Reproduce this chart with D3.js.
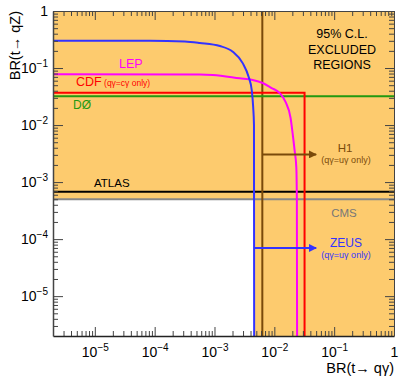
<!DOCTYPE html>
<html>
<head>
<meta charset="utf-8">
<script src="https://cdn.jsdelivr.net/npm/d3@7"></script>
<style>
  body { margin: 0; background: #fff; }
  svg { font-family: "Liberation Sans", Arial, sans-serif; }
</style>
</head>
<body>
<div id="chart"></div>
<script>
// axis ranges, BR(t -> q gamma) on x, BR(t -> qZ) on y
const xDomain = [2e-6, 1];
const yDomain = [2e-6, 1];
const majorTicks = [1e-5, 1e-4, 1e-3, 1e-2, 1e-1, 1];
const tickExponents = ["\u22125", "\u22124", "\u22123", "\u22122", "\u22121", ""];

// LEP and ZEUS contours, [BR(q gamma), BR(qZ)]
const lepCurve = [[2e-6, 0.078], [5.7e-4, 0.077], [9.4e-4, 0.0754], [2.64e-3, 0.066],
  [4.35e-3, 0.0616], [6.38e-3, 0.0546], [9.0e-3, 0.0446], [1.23e-2, 0.0364],
  [1.54e-2, 0.0254], [1.87e-2, 0.0133], [2.02e-2, 7.2e-3], [2.18e-2, 3.64e-3],
  [2.33e-2, 1.83e-3], [2.38e-2, 4.8e-4], [2.4e-2, 2e-6]];
const zeusCurve = [[2e-6, 0.30], [8.3e-5, 0.30], [3.2e-4, 0.292], [5.7e-4, 0.275],
  [1.23e-3, 0.243], [2.02e-3, 0.193], [2.96e-3, 0.122], [3.73e-3, 0.0695],
  [4.19e-3, 0.0411], [4.43e-3, 0.0207], [4.57e-3, 0.01], [4.6e-3, 2e-6]];

// single limits
const cdfLimit = {qGamma: 0.032, qZ: 0.037};
const d0Limit = 0.032;      // qZ only
const atlasLimit = 6.8e-4;  // qZ only
const cmsLimit = 5e-4;      // qZ only
const h1Limit = 6.3e-3;     // q gamma only
const zeusLimit = 4.6e-3;   // q gamma (u gamma)
const arrowEnd = 0.05;
const h1ArrowAt = 3.06e-3;
const zeusArrowAt = 7.0e-5;

const W = 407, H = 387;
const margin = {left: 53, right: 13, top: 11, bottom: 51};

const svg = d3.select("#chart").append("svg")
  .attr("width", W).attr("height", H);

const x = d3.scaleLog().domain(xDomain).range([margin.left, W - margin.right]);
const y = d3.scaleLog().domain(yDomain).range([H - margin.bottom, margin.top]);

const x0 = x.range()[0], x1 = x.range()[1];
const y0 = y.range()[0], y1 = y.range()[1];

const brown = "#7a4a0a", blue = "#3333ff", magenta = "#ff00ff",
      red = "#ff0000", green = "#229911";

// excluded area: whole frame minus the corner left of ZEUS and below CMS
const excluded = [[xDomain[0], yDomain[1]], [xDomain[1], yDomain[1]], [xDomain[1], yDomain[0]],
  [zeusLimit, yDomain[0]], [zeusLimit, cmsLimit], [xDomain[0], cmsLimit]];
svg.append("path")
  .attr("d", d3.line().x(d => x(d[0])).y(d => y(d[1]))(excluded) + "Z")
  .attr("fill", "#fdcb6e");

function hline(v, color, w){
  svg.append("line").attr("x1", x0).attr("x2", x1).attr("y1", y(v)).attr("y2", y(v))
    .attr("stroke", color).attr("stroke-width", w);
}
function vline(v, color, w){
  svg.append("line").attr("x1", x(v)).attr("x2", x(v)).attr("y1", y0).attr("y2", y1)
    .attr("stroke", color).attr("stroke-width", w);
}

hline(cmsLimit, "#888888", 2);
hline(atlasLimit, "#000000", 2);
vline(h1Limit, brown, 2);
hline(d0Limit, green, 2);

// CDF box
svg.append("path")
  .attr("d", d3.line().x(d => x(d[0])).y(d => y(d[1]))(
    [[xDomain[0], cdfLimit.qZ], [cdfLimit.qGamma, cdfLimit.qZ], [cdfLimit.qGamma, yDomain[0]]]))
  .attr("fill", "none").attr("stroke", red).attr("stroke-width", 2);

const curve = d3.line().x(d => x(d[0])).y(d => y(d[1])).curve(d3.curveMonotoneX);
svg.append("path").attr("d", curve(lepCurve))
  .attr("fill", "none").attr("stroke", magenta).attr("stroke-width", 2);
svg.append("path").attr("d", curve(zeusCurve))
  .attr("fill", "none").attr("stroke", blue).attr("stroke-width", 2);

// arrows
const defs = svg.append("defs");
[["h1head", brown], ["zeushead", blue]].forEach(([id, c]) => {
  defs.append("marker").attr("id", id).attr("viewBox", "0 0 10 10")
    .attr("refX", 9).attr("refY", 5).attr("markerWidth", 4).attr("markerHeight", 4)
    .attr("orient", "auto").attr("markerUnits", "strokeWidth")
    .append("path").attr("d", "M0,0L10,5L0,10Z").attr("fill", c);
});
svg.append("line").attr("x1", x(h1Limit)).attr("x2", x(arrowEnd))
  .attr("y1", y(h1ArrowAt)).attr("y2", y(h1ArrowAt))
  .attr("stroke", brown).attr("stroke-width", 2).attr("marker-end", "url(#h1head)");
svg.append("line").attr("x1", x(zeusLimit)).attr("x2", x(arrowEnd))
  .attr("y1", y(zeusArrowAt)).attr("y2", y(zeusArrowAt))
  .attr("stroke", blue).attr("stroke-width", 2).attr("marker-end", "url(#zeushead)");

// labels
function label(px, py, txt, color, size, anchor){
  return svg.append("text").attr("x", px).attr("y", py).text(txt)
    .attr("fill", color).attr("font-size", size + "px").attr("text-anchor", anchor || "start");
}
label(119, y(0.099), "LEP", magenta, 12.5);
const cdfText = label(76, y(cdfLimit.qZ) - 7, "CDF", red, 12.5);
cdfText.append("tspan").attr("font-size", "8.5px").text(" (q\u03b3=c\u03b3 only)");
label(73, y(d0Limit) + 13, "D\u00d8", green, 12);
label(94, y(atlasLimit) - 5, "ATLAS", "#000", 11.5);
label(344, y(cmsLimit) + 18, "CMS", "#777777", 11.5, "middle");
label(345, y(h1ArrowAt) - 2, "H1", brown, 11.5, "middle");
label(346, y(h1ArrowAt) + 9, "(q\u03b3=u\u03b3 only)", brown, 9, "middle");
label(346, y(zeusArrowAt) - 1, "ZEUS", blue, 12, "middle");
label(346, y(zeusArrowAt) + 10.5, "(q\u03b3=u\u03b3 only)", blue, 9, "middle");
label(342, 38, "95% C.L.", "#000", 12.5, "middle");
label(342, 53.5, "EXCLUDED", "#000", 12.5, "middle");
label(342, 68.5, "REGIONS", "#000", 12.5, "middle");

// axes
const minorTicks = [];
for (let e = -6; e <= -1; e++){
  for (let k = 2; k <= 9; k++){
    const v = k * Math.pow(10, e);
    if (v > xDomain[0] * 1.01 && v < xDomain[1]) minorTicks.push(v);
  }
}
const axisColor = "#444";

function styleAxis(g){
  g.selectAll("line").attr("stroke", axisColor);
  g.selectAll("path").attr("stroke", axisColor);
}
function expLabels(g){
  g.selectAll(".tick text").each(function(d){
    const t = d3.select(this).text("");
    const ex = tickExponents[majorTicks.indexOf(d)];
    if (ex === "") { t.text("1"); return; }
    t.append("tspan").text("10");
    t.append("tspan").attr("font-size", "10px").attr("dy", "-6").text(ex);
  });
}

// bottom
svg.append("g").attr("transform", `translate(0,${y0})`)
  .call(d3.axisBottom(x).tickValues(minorTicks).tickSize(-5).tickFormat(""))
  .call(g => g.select(".domain").remove()).call(styleAxis);
const xb = svg.append("g").attr("transform", `translate(0,${y0})`)
  .call(d3.axisBottom(x).tickValues(majorTicks).tickSizeInner(-9).tickSizeOuter(0).tickPadding(11))
  .call(styleAxis);
xb.selectAll(".tick text").attr("font-size", "14px").attr("fill", "#000")
  .attr("font-family", "Liberation Sans, Arial, sans-serif");
xb.call(expLabels);
xb.select(".domain").attr("stroke", "#222").attr("stroke-width", 1.5);

// top
svg.append("g").attr("transform", `translate(0,${y1})`)
  .call(d3.axisTop(x).tickValues(minorTicks).tickSize(-5).tickFormat(""))
  .call(g => g.select(".domain").remove()).call(styleAxis);
svg.append("g").attr("transform", `translate(0,${y1})`)
  .call(d3.axisTop(x).tickValues(majorTicks).tickSizeInner(-9).tickSizeOuter(0).tickFormat(""))
  .call(styleAxis);

// left
svg.append("g").attr("transform", `translate(${x0},0)`)
  .call(d3.axisLeft(y).tickValues(minorTicks).tickSize(-5).tickFormat(""))
  .call(g => g.select(".domain").remove()).call(styleAxis);
const yl = svg.append("g").attr("transform", `translate(${x0},0)`)
  .call(d3.axisLeft(y).tickValues(majorTicks).tickSizeInner(-10).tickSizeOuter(0).tickPadding(5))
  .call(styleAxis);
yl.selectAll(".tick text").attr("font-size", "14px").attr("fill", "#000")
  .attr("font-family", "Liberation Sans, Arial, sans-serif");
yl.call(expLabels);
yl.select(".domain").attr("stroke-width", 1.5);

// right
svg.append("g").attr("transform", `translate(${x1},0)`)
  .call(d3.axisRight(y).tickValues(minorTicks).tickSize(-5).tickFormat(""))
  .call(g => g.select(".domain").remove()).call(styleAxis);
svg.append("g").attr("transform", `translate(${x1},0)`)
  .call(d3.axisRight(y).tickValues(majorTicks).tickSizeInner(-9).tickSizeOuter(0).tickFormat(""))
  .call(styleAxis);

// axis titles
svg.append("text").attr("x", x1).attr("y", 373).attr("text-anchor", "end")
  .attr("font-size", "14.5px").text("BR(t\u2192 q\u03b3)");
svg.append("text").attr("transform", `translate(20,${y1}) rotate(-90)`)
  .attr("text-anchor", "end").attr("font-size", "14.5px").text("BR(t\u2192 qZ)");
</script>
</body>
</html>
